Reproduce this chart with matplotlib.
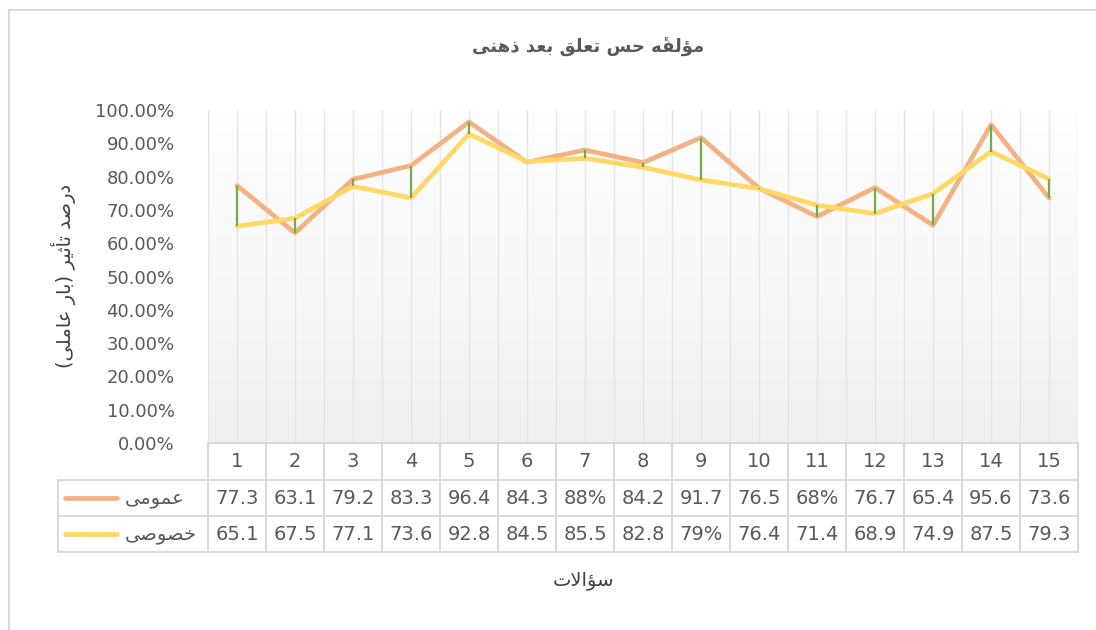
import numpy as np
import matplotlib
matplotlib.use('Agg')
import matplotlib.pyplot as plt
from matplotlib.colors import LinearSegmentedColormap
from matplotlib.ticker import PercentFormatter
from matplotlib.lines import Line2D

plt.rcParams['font.family'] = ['DejaVu Sans']

# data (percent)
questions = [str(i) for i in range(1, 16)]
general = [77.3, 63.1, 79.2, 83.3, 96.4, 84.3, 88.0, 84.2, 91.7, 76.5, 68.0, 76.7, 65.4, 95.6, 73.6]
private = [65.1, 67.5, 77.1, 73.6, 92.8, 84.5, 85.5, 82.8, 79.0, 76.4, 71.4, 68.9, 74.9, 87.5, 79.3]
series_names = ['عمومی', 'خصوصی']
title = 'مؤلفهٔ حس تعلق بعد ذهنی'
ylabel = 'درصد تأثیر (بار عاملی)'
xlabel = 'سؤالات'

# Arabic presentation forms: isolated, final, initial, medial
AR_FORMS = {
    'ا': (0xFE8D, 0xFE8E), 'أ': (0xFE83, 0xFE84), 'ؤ': (0xFE85, 0xFE86),
    'ب': (0xFE8F, 0xFE90, 0xFE91, 0xFE92), 'ت': (0xFE95, 0xFE96, 0xFE97, 0xFE98),
    'ث': (0xFE99, 0xFE9A, 0xFE9B, 0xFE9C), 'ح': (0xFEA1, 0xFEA2, 0xFEA3, 0xFEA4),
    'خ': (0xFEA5, 0xFEA6, 0xFEA7, 0xFEA8), 'د': (0xFEA9, 0xFEAA), 'ذ': (0xFEAB, 0xFEAC),
    'ر': (0xFEAD, 0xFEAE), 'س': (0xFEB1, 0xFEB2, 0xFEB3, 0xFEB4),
    'ص': (0xFEB9, 0xFEBA, 0xFEBB, 0xFEBC), 'ع': (0xFEC9, 0xFECA, 0xFECB, 0xFECC),
    'ف': (0xFED1, 0xFED2, 0xFED3, 0xFED4), 'ق': (0xFED5, 0xFED6, 0xFED7, 0xFED8),
    'ل': (0xFEDD, 0xFEDE, 0xFEDF, 0xFEE0), 'م': (0xFEE1, 0xFEE2, 0xFEE3, 0xFEE4),
    'ن': (0xFEE5, 0xFEE6, 0xFEE7, 0xFEE8), 'ه': (0xFEE9, 0xFEEA, 0xFEEB, 0xFEEC),
    'و': (0xFEED, 0xFEEE), 'ی': (0xFBFC, 0xFBFD, 0xFBFE, 0xFBFF),
}
LAM_ALEF = {'ا': (0xFEFB, 0xFEFC), 'أ': (0xFEF7, 0xFEF8)}
MARKS = {'\u0654'}
MIRROR = {'(': ')', ')': '('}


def rtl(text):
    # shape and reorder for matplotlib, which does no bidi/shaping
    chars = list(text)
    n = len(chars)

    def neighbour(i, step):
        j = i + step
        while 0 <= j < n and chars[j] in MARKS:
            j += step
        return chars[j] if 0 <= j < n else None

    out = []
    i = 0
    while i < n:
        c = chars[i]
        if c in MARKS:
            out[-1] += c
            i += 1
            continue
        prev = neighbour(i, -1)
        nxt = neighbour(i, 1)
        joins_prev = prev in AR_FORMS and len(AR_FORMS[prev]) == 4
        if c == 'ل' and nxt in LAM_ALEF:
            out.append(chr(LAM_ALEF[nxt][1 if joins_prev else 0]))
            i += 2
            continue
        if c in AR_FORMS:
            forms = AR_FORMS[c]
            joins_next = len(forms) == 4 and nxt in AR_FORMS
            if joins_prev and joins_next:
                f = forms[3]
            elif joins_prev:
                f = forms[1]
            elif joins_next:
                f = forms[2]
            else:
                f = forms[0]
            out.append(chr(f))
        else:
            out.append(MIRROR.get(c, c))
        i += 1
    return ''.join(reversed(out))


def cell(v):
    return f'{v:g}%' if v == int(v) else f'{v:.1f}'


W, H = 1096, 630
fig = plt.figure(figsize=(W / 100, H / 100), dpi=100)
ax = fig.add_axes([208 / W, 1 - 443 / H, 870 / W, 333 / H])

n = len(questions)
x = np.arange(n)
gen = np.array(general) / 100
prv = np.array(private) / 100

# plot area gradient: white at top, light grey at bottom
cmap = LinearSegmentedColormap.from_list('bg', ['#ffffff', '#efefef'])
ax.imshow(np.linspace(1, 0, 256)[:, None], extent=(-0.5, n - 0.5, 0, 1), aspect='auto',
          cmap=cmap, vmin=0, vmax=1, zorder=0, origin='lower')
ax.set_xlim(-0.5, n - 0.5)
ax.set_ylim(0, 1)

for k in np.arange(-0.5, n, 0.5):
    ax.axvline(k, color='#e6e6e6', lw=1.0, zorder=1)

col_gen = '#F4B183'
col_prv = '#FFD966'
ax.plot(x, gen, color=col_gen, lw=3.4, solid_joinstyle='round', solid_capstyle='round', zorder=3)
ax.plot(x, prv, color=col_prv, lw=3.4, solid_joinstyle='round', solid_capstyle='round', zorder=4)
ax.vlines(x, np.minimum(gen, prv), np.maximum(gen, prv), color='#70AD47', lw=1.6, zorder=5)

ax.yaxis.set_major_formatter(PercentFormatter(1.0, decimals=2))
ax.set_yticks(np.arange(0, 1.01, 0.1))
ax.tick_params(axis='y', length=0, pad=24, labelsize=13, labelcolor='#595959')
ax.set_xticks([])
for s in ax.spines.values():
    s.set_visible(False)

# data table under the plot
tr = ax.get_xaxis_transform()
grid_c = '#d9d9d9'
rows = [0, -37 / 333, -73 / 333, -109 / 333]
leg_left = -0.5 - 150 / 58
edges = np.arange(-0.5, n, 1.0)
line_kw = dict(color=grid_c, lw=1.5, transform=tr, clip_on=False, zorder=2)
ax.add_line(Line2D([-0.5, n - 0.5], [rows[0], rows[0]], **line_kw))
for r in rows[1:]:
    ax.add_line(Line2D([leg_left, n - 0.5], [r, r], **line_kw))
for e in edges:
    ax.add_line(Line2D([e, e], [rows[0], rows[3]], **line_kw))
ax.add_line(Line2D([n - 0.5, n - 0.5], [rows[0], rows[3]], **line_kw))
ax.add_line(Line2D([leg_left, leg_left], [rows[1], rows[3]], **line_kw))

txt_c = '#595959'
for i, q in enumerate(questions):
    ax.text(i, (rows[0] + rows[1]) / 2, q, transform=tr, ha='center', va='center',
            fontsize=14, color=txt_c)
for vals, r0, r1 in [(general, rows[1], rows[2]), (private, rows[2], rows[3])]:
    for i, v in enumerate(vals):
        ax.text(i, (r0 + r1) / 2, cell(v), transform=tr, ha='center', va='center',
                fontsize=14, color=txt_c)

sample_x0 = -0.5 - 143 / 58
sample_x1 = -0.5 - 91 / 58
for name, c, r0, r1 in [(series_names[0], col_gen, rows[1], rows[2]),
                        (series_names[1], col_prv, rows[2], rows[3])]:
    ym = (r0 + r1) / 2
    ax.add_line(Line2D([sample_x0, sample_x1], [ym, ym], color=c, lw=3.4,
                       solid_capstyle='round', transform=tr, clip_on=False))
    ax.text(-0.5 - 83 / 58, ym, rtl(name), transform=tr, ha='left', va='center',
            fontsize=14, color=txt_c)

# titles
fig.text(588 / W, 1 - 47 / H, rtl(title), ha='center', va='center', fontsize=13,
         color='#595959', fontweight='bold')
fig.text(63 / W, 1 - 276 / H, rtl(ylabel), ha='center', va='center', rotation=90,
         fontsize=14, color='#404040')
fig.text(583 / W, 1 - 580 / H, rtl(xlabel), ha='center', va='center', fontsize=14,
         color='#404040')

# chart border (cropped at right and bottom)
fig.add_artist(Line2D([9 / W, 9 / W], [0, 1 - 10 / H], color=grid_c, lw=1.5, transform=fig.transFigure))
fig.add_artist(Line2D([9 / W, 1], [1 - 10 / H, 1 - 10 / H], color=grid_c, lw=1.5, transform=fig.transFigure))

fig.savefig('out.png', dpi=100, facecolor='white')
